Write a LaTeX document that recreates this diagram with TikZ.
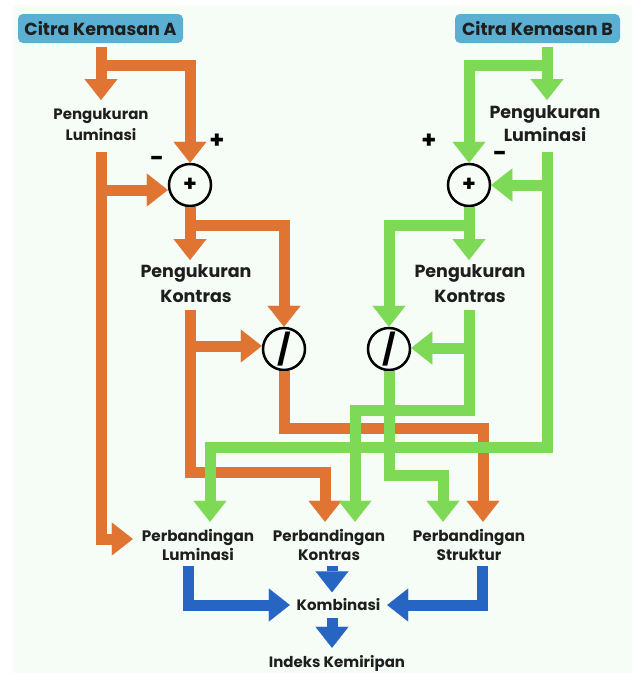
\documentclass[tikz,border=0pt]{standalone}
\usepackage{fontspec}
\setmainfont{Poppins}
\usetikzlibrary{arrows.meta}
\definecolor{orA}{HTML}{E07432}
\definecolor{grB}{HTML}{7ED957}
\definecolor{blC}{HTML}{2765C2}
\definecolor{boxC}{HTML}{5AAFD2}
\definecolor{bgC}{HTML}{F6FDF6}
\definecolor{txtC}{HTML}{1E1E1E}
\newcommand{\fs}[2]{\fontsize{#1}{#2}\selectfont}
\begin{document}
\begin{tikzpicture}[x=1pt,y=-1pt,
  flow/.style={line width=11pt, line join=miter, line cap=butt,
    -{Triangle[width=33pt,length=21pt,line width=0.1pt]}},
  of/.style={flow, draw=orA},
  gf/.style={flow, draw=grB},
  bf/.style={flow, draw=blC},
  boxn/.style={fill=boxC, rounded corners=5pt, minimum width=165pt, minimum height=29pt,
    inner sep=0pt, text=txtC, font=\bfseries\fs{17.5}{20}},
  lab/.style={align=center, inner sep=0pt, text=txtC, font=\bfseries\fs{17.5}{25}},
  opn/.style={circle, draw=black, line width=2.5pt, minimum size=42pt, inner sep=0pt,
    fill=bgC, text=black, font=\bfseries\fs{22}{22}},
  sgn/.style={inner sep=0pt, text=black, font=\bfseries\fs{24}{24}}
]
\useasboundingbox (0,0) rectangle (632,673);
\fill[bgC] (13,5) rectangle (632,673);

% nodes
\node[boxn] (ca) at (100.5,28.5) {Citra Kemasan A};
\node[boxn] (cb) at (537.5,28.5) {Citra Kemasan B};
\node[lab, font=\bfseries\fs{15}{21}, minimum height=52pt] (plA) at (101,125) {Pengukuran\\Luminasi};
\node[lab, font=\bfseries\fs{17.5}{23}, minimum height=52pt] (plB) at (545,124) {Pengukuran\\Luminasi};
\node[opn] (sumA) at (190,185) {+};
\node[opn] (sumB) at (469,185) {+};
\node[lab, minimum height=50pt] (pkA) at (196,284) {Pengukuran\\Kontras};
\node[lab, minimum height=50pt] (pkB) at (470,284) {Pengukuran\\Kontras};
\node[opn, font=\bfseries\fs{30}{30}] (divA) at (284,349) {/};
\node[opn, font=\bfseries\fs{30}{30}] (divB) at (389,349) {/};
\node[lab, font=\bfseries\fs{15.2}{19}, minimum height=46pt, minimum width=130pt] (pbL) at (198,545) {Perbandingan\\Luminasi};
\node[lab, font=\bfseries\fs{15.2}{19}, minimum height=46pt] (pbK) at (329,545) {Perbandingan\\Kontras};
\node[lab, font=\bfseries\fs{15.2}{19}, minimum height=46pt] (pbS) at (469,545) {Perbandingan\\Struktur};
\node[lab, font=\bfseries\fs{15}{19}, minimum height=25pt, minimum width=97pt] (kom) at (338.5,605) {Kombinasi};
\node[lab, font=\bfseries\fs{15}{19}, minimum height=30pt] (idx) at (337,663) {Indeks Kemiripan};

\node[sgn] (pA) at (217,141) {+};
\node[sgn] (mA) at (157,161) {-};
\node[sgn] (pB) at (429,141) {+};
\node[sgn] (mB) at (500,156) {-};

% orange flows
\coordinate (aTop) at (101,47);
\coordinate (aJ1) at (101,65);
\coordinate (aJ2) at (101,190);
\coordinate (aJ3) at (190,225);
\coordinate (aJ4) at (190,346);
\coordinate (aK) at (325,472);
\coordinate (aS) at (483,428);
\draw[of] (aTop) -- (aTop |- 0,100);
\draw[of] (aJ1) -| (sumA.north);
\draw[of] (aTop |- 0,152) |- ([yshift=6pt]pbL.west);
\draw[of] (aJ2) -- (aJ2 -| sumA.west);
\draw[of] (sumA.south) -- (sumA.south |- 0,260);
\draw[of] (aJ3) -| (divA.north);
\draw[of] (sumA.south |- 0,310) |- (aK) -- (aK |- pbK.north);
\draw[of] (aJ4) -- (aJ4 -| divA.west);
\draw[of] (divA.south) |- (aS) -- (aS |- pbS.north);

% green flows
\coordinate (bTop) at (547,47);
\coordinate (bJ1) at (547,65);
\coordinate (bL) at (210,447);
\coordinate (bJ2) at (547,185);
\coordinate (bJ3) at (469,225);
\coordinate (bK) at (355,410);
\coordinate (bJ4) at (469,348);
\coordinate (bS) at (443,475);
\draw[gf] (bTop) -- (bTop |- 0,100);
\draw[gf] (bJ1) -| (sumB.north);
\draw[gf] (bTop |- 0,152) |- (bL) -- (bL |- pbL.north);
\draw[gf] (bJ2) -- (sumB.east);
\draw[gf] (sumB.south) -- (sumB.south |- 0,260);
\draw[gf] (bJ3) -| (divB.north);
\draw[gf] (sumB.south |- 0,310) |- (bK) -- (bK |- pbK.north);
\draw[gf] (bJ4) -- (bJ4 -| divB.east);
\draw[gf] (divB.south) |- (bS) -- (bS |- pbS.north);

% blue flows
\coordinate (cL) at (188,566);
\coordinate (cK) at (332,566);
\coordinate (cS) at (482,566);
\draw[bf] (cL) |- (kom.west);
\draw[bf] (cK) -- (cK |- kom.north);
\draw[bf] (cS) |- (kom.east);
\draw[bf] (cK |- kom.south) -- (cK |- idx.north);
\end{tikzpicture}
\end{document}
